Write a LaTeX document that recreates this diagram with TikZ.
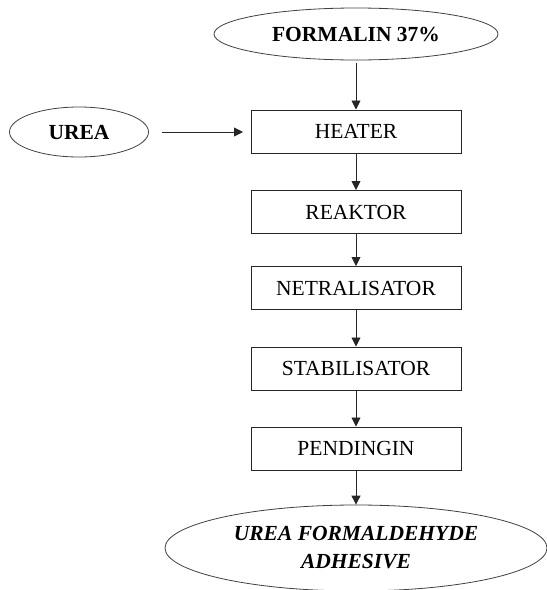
\documentclass[tikz,border=0pt]{standalone}
\usepackage{fontspec}
\setmainfont{Liberation Serif}
\usetikzlibrary{shapes.geometric,arrows.meta}
\begin{document}
\begin{tikzpicture}[x=1pt,y=-1pt,
  procbox/.style={draw=black!85,line width=1pt,minimum width=210pt,minimum height=43pt,inner sep=0pt,
    font=\fontsize{21.5}{24}\selectfont},
  ell/.style={draw=black!75,line width=0.8pt,ellipse,inner sep=0pt,
    font=\fontsize{21.5}{24}\selectfont\bfseries},
  flow/.style={draw=black!85,line width=0.9pt,-{Triangle[length=9pt,width=9pt]}}]
\useasboundingbox (0,0) rectangle (547,590);
\node[ell,minimum width=284pt,minimum height=52pt] (form) at (356,34) {FORMALIN 37\%};
\node[ell,minimum width=139pt,minimum height=50pt] (urea) at (79,132) {UREA};
\node[procbox] (heater) at (356,131.5) {HEATER};
\node[procbox] (reaktor) at (356,212) {REAKTOR};
\node[procbox] (netral) at (356,288) {NETRALISATOR};
\node[procbox] (stabil) at (356,368.5) {STABILISATOR};
\node[procbox] (pend) at (356,448.5) {PENDINGIN};
\node[ell,minimum width=382pt,minimum height=86pt,align=center,
  font=\fontsize{21.5}{28}\selectfont\bfseries\itshape] (prod) at (356,548) {UREA FORMALDEHYDE\\ADHESIVE};
\coordinate (ua) at (162,132);
\coordinate (ub) at (243,132);
\draw[flow] (ua) -- (ub);
\draw[flow] (form.south) ++(0,3) -- (heater.north);
\draw[flow] (heater) -- (reaktor);
\draw[flow] (reaktor) -- (netral);
\draw[flow] (netral) -- (stabil);
\draw[flow] (stabil) -- (pend);
\draw[flow] (pend.south) -- (prod.north);
\end{tikzpicture}
\end{document}
